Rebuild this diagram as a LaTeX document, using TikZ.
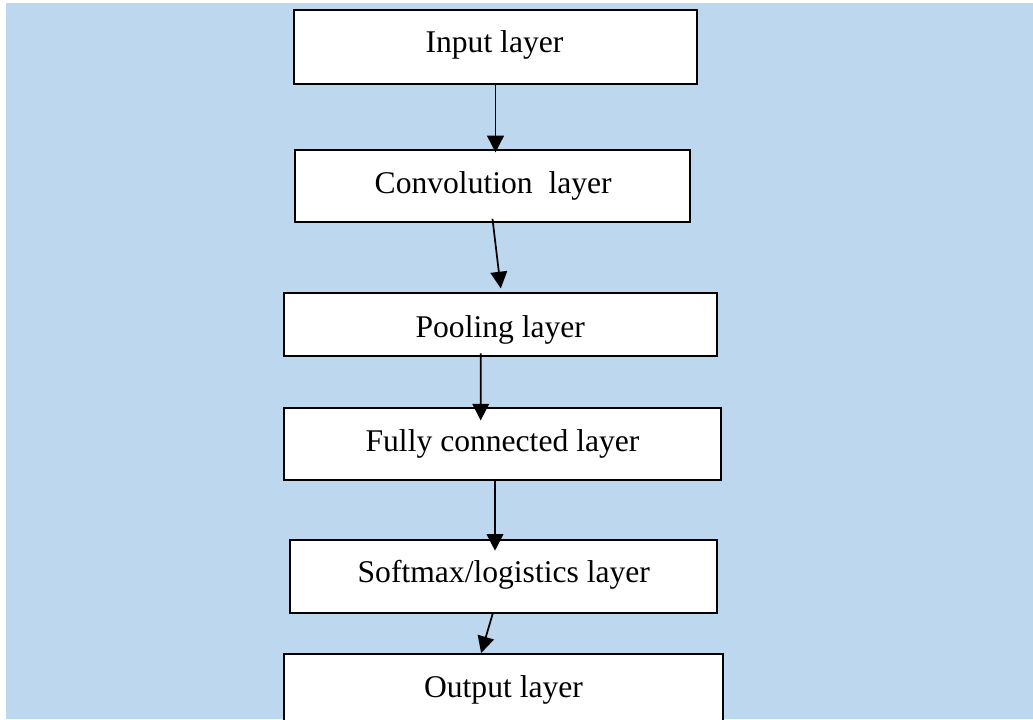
\documentclass[tikz,border=0pt]{standalone}
\usepackage{fontspec}
\setmainfont{Liberation Serif}
\usetikzlibrary{arrows.meta}
\definecolor{bgblue}{HTML}{BDD7EE}
\begin{document}
\begin{tikzpicture}[x=0.75pt,y=-0.75pt,
  layerbox/.style={draw=black,fill=white,line width=1.4pt,inner sep=0pt},
  lbl/.style={anchor=base,inner sep=0pt,font=\fontsize{23.7}{28}\selectfont},
  conn/.style={line width=1.3pt,-{Triangle[length=12.5pt,width=12.5pt]}}]
\clip (0,0) rectangle (1033,719);
\fill[white] (0,0) rectangle (1033,719);
\fill[bgblue] (6,3) rectangle (1033,719);
% boxes
\node[layerbox,minimum width=302.25pt,minimum height=55.5pt] (input) at (495.5,47) {};
\node[layerbox,minimum width=296.25pt,minimum height=54pt] (conv) at (492.5,186) {};
\node[layerbox,minimum width=324.75pt,minimum height=46.75pt] (pool) at (500.8,324.5) {};
\node[layerbox,minimum width=327.5pt,minimum height=53.75pt] (fc) at (502.7,444.2) {};
\node[layerbox,minimum width=320.25pt,minimum height=54.5pt] (soft) at (503.8,576.3) {};
\node[layerbox,minimum width=329.25pt,minimum height=75pt] (out) at (503.8,704) {};
% labels
\node[lbl] (tinput) at (494.5,52.5) {Input layer};
\node[lbl] (tconv) at (493.2,193.5) {Convolution~~layer};
\node[lbl] (tpool) at (500.3,337.5) {Pooling layer};
\node[lbl] (tfc) at (502.5,451) {Fully connected layer};
\node[lbl] (tsoft) at (503.8,582.5) {Softmax/logistics layer};
\node[lbl] (tout) at (503.5,697.5) {Output layer};
% connectors
\draw[conn] (input.south) -- ([xshift=2.25pt,yshift=-2.5pt]conv.north);
\draw[conn] ([yshift=3pt]conv.south) -- ([yshift=3pt]pool.north);
\draw[conn] ([xshift=-15pt,yshift=2.5pt]pool.south) -- ([xshift=-16.5pt,yshift=-9.75pt]fc.north);
\draw[conn] ([xshift=-5.7pt]fc.south) -- ([xshift=-6.6pt,yshift=-8.75pt]soft.north);
\draw[conn] ([xshift=-8.3pt]soft.south) -- ([xshift=-17pt]out.north);
\end{tikzpicture}
\end{document}
